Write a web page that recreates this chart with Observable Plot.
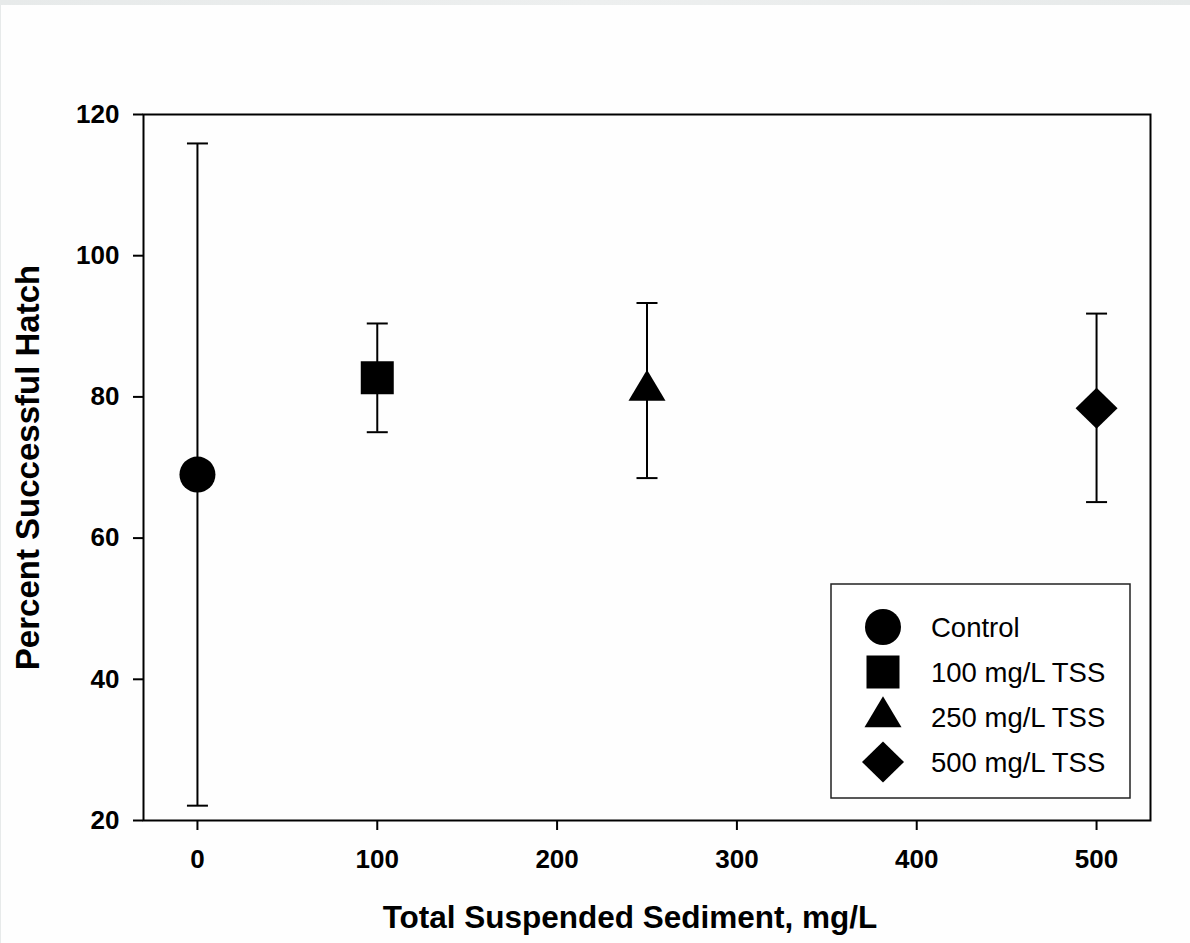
<!DOCTYPE html>
<html>
<head>
<meta charset="utf-8">
<script src="https://cdn.jsdelivr.net/npm/d3@7"></script>
<script src="https://cdn.jsdelivr.net/npm/@observablehq/plot@0.6"></script>
<style>
  html, body { margin: 0; padding: 0; background: #ffffff; }
  #wrap { position: relative; width: 1190px; height: 943px; overflow: hidden; background: #fefefe; }
  #topstrip { position: absolute; left: 0; top: 0; width: 1190px; height: 5px; background: linear-gradient(90deg, #e7eaea, #edefef 50%, #e7eaea); }
  #leftstrip { position: absolute; left: 0; top: 0; width: 1px; height: 943px; background: #e7eaea; }
  #legend { position: absolute; left: 830px; top: 583px; }
  svg { font-family: "Liberation Sans", Arial, sans-serif; }
  g[aria-label="x-axis tick label"] text, g[aria-label="y-axis tick label"] text { font-size: 26px; font-weight: bold; }
  g[aria-label="y-axis label"] text { font-size: 33px; font-weight: bold; }
</style>
</head>
<body>
<div id="wrap"><div id="chart"></div><div id="topstrip"></div><div id="leftstrip"></div></div>
<script>
// ---- data ----
const tss = [0, 100, 250, 500];
const groups = ["Control", "100 mg/L TSS", "250 mg/L TSS", "500 mg/L TSS"];
const hatchMean = [69.0, 82.7, 80.9, 78.4];
const hatchLow = [22.1, 75.0, 68.5, 65.1];
const hatchHigh = [115.9, 90.4, 93.3, 91.8];
const xTicks = [0, 100, 200, 300, 400, 500];
const yTicks = [20, 40, 60, 80, 100, 120];
const xTitle = "Total Suspended Sediment, mg/L";
const yTitle = "Percent Successful Hatch";

const rows = tss.map((x, i) => ({x, group: groups[i], mean: hatchMean[i], lo: hatchLow[i], hi: hatchHigh[i]}));

// ---- custom marker shapes (fixed pixel sizes) ----
const circleSym = {draw(c) { c.moveTo(18, 0); c.arc(0, 0, 18, 0, 2 * Math.PI); c.closePath(); }};
const squareSym = {draw(c) { c.rect(-16.5, -16.5, 33, 33); }};
const triangleSym = {draw(c) { c.moveTo(0, -20.7); c.lineTo(18.5, 10.3); c.lineTo(-18.5, 10.3); c.closePath(); }};
const diamondSym = {draw(c) { c.moveTo(0, -20.5); c.lineTo(21, 0); c.lineTo(0, 20.5); c.lineTo(-21, 0); c.closePath(); }};
const capSym = {draw(c) { c.moveTo(-10.5, 0); c.lineTo(10.5, 0); }};
const symbols = [circleSym, squareSym, triangleSym, diamondSym];

const markerMarks = rows.map((r, i) =>
  Plot.dot([r], {x: "x", y: "mean", symbol: symbols[i], fill: "black", stroke: "none", r: 10})
);

const chart = Plot.plot({
  width: 1190,
  height: 943,
  marginLeft: 143,
  marginRight: 40,
  marginTop: 114,
  marginBottom: 123,
  style: {background: "transparent", color: "black", fontFamily: "Liberation Sans, Arial, sans-serif"},
  x: {domain: [-30, 530]},
  y: {domain: [20, 120]},
  marks: [
    Plot.axisX({ticks: xTicks, tickSize: 10, tickPadding: 19, strokeWidth: 2, fontSize: 26, fontWeight: "bold", label: null}),
    Plot.axisY({ticks: yTicks, tickSize: 10, tickPadding: 14, strokeWidth: 2, fontSize: 26, fontWeight: "bold",
      label: yTitle, labelAnchor: "center", labelArrow: "none", labelOffset: 128}),
    Plot.text([xTitle], {text: d => d, frameAnchor: "bottom", dy: 97, dx: -17, lineAnchor: "middle",
      fontSize: 31.5, fontWeight: "bold", fill: "black"}),
    Plot.ruleX(rows, {x: "x", y1: "lo", y2: "hi", stroke: "black", strokeWidth: 2}),
    Plot.dot(rows, {x: "x", y: "lo", symbol: capSym, fill: "none", stroke: "black", strokeWidth: 2}),
    Plot.dot(rows, {x: "x", y: "hi", symbol: capSym, fill: "none", stroke: "black", strokeWidth: 2}),
    ...markerMarks,
    Plot.frame({stroke: "black", strokeWidth: 2})
  ]
});
document.getElementById("chart").appendChild(chart);

// ---- legend (inside the plot area, lower right) ----
const lw = 301, lh = 217;
const leg = d3.select("#wrap").append("svg")
  .attr("id", "legend").attr("width", lw).attr("height", lh);
leg.append("rect").attr("x", 1).attr("y", 1).attr("width", lw - 2).attr("height", lh - 3)
  .attr("fill", "white").attr("stroke", "#222").attr("stroke-width", 1.5);
groups.forEach((g, i) => {
  const cy = 44 + i * 45;
  const p = d3.path();
  symbols[i].draw(p, 0);
  leg.append("path").attr("d", p.toString()).attr("transform", `translate(53,${cy})`).attr("fill", "black");
  leg.append("text").attr("x", 101).attr("y", cy + 10)
    .attr("font-size", 27.5).attr("fill", "black").text(g);
});
</script>
</body>
</html>
